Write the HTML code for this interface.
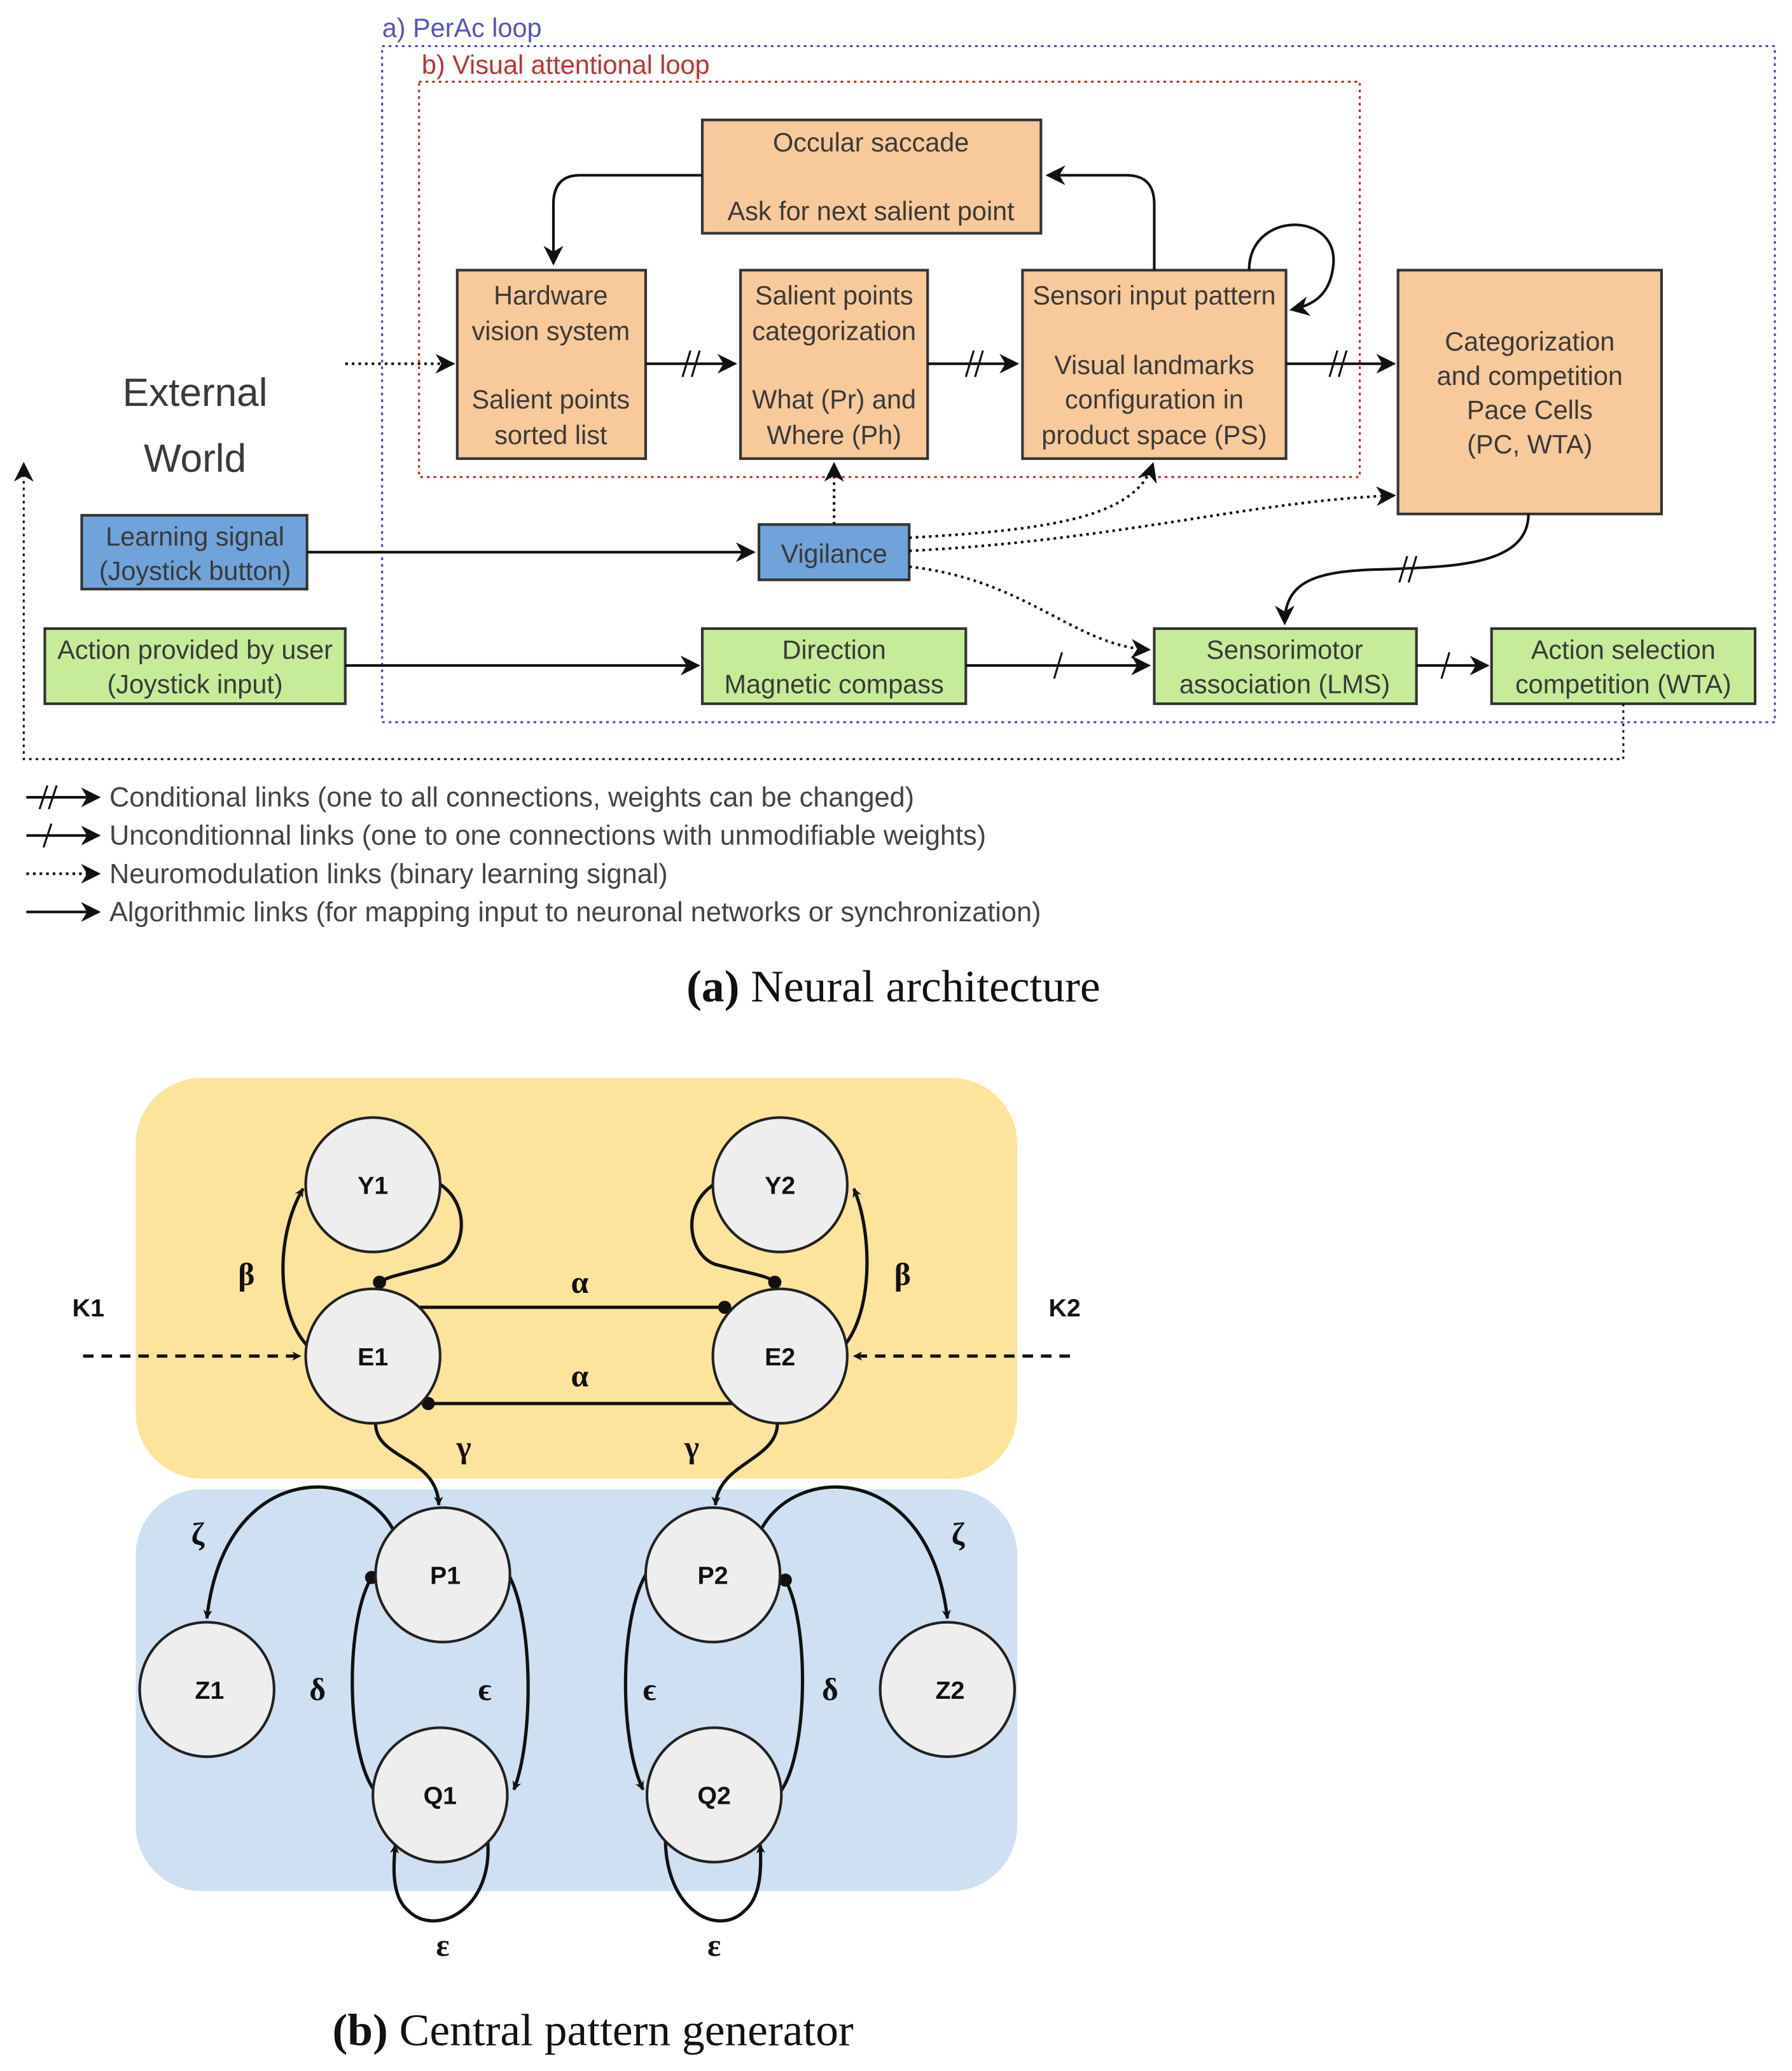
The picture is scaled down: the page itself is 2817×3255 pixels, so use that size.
<!DOCTYPE html>
<html><head><meta charset="utf-8"><style>html,body{margin:0;padding:0;background:#fff}svg{display:block}</style></head>
<body>
<svg width="2817" height="3255" viewBox="0 0 1360 1571.5" xmlns="http://www.w3.org/2000/svg">
<defs>
<marker id="a" viewBox="0 0 10 10" refX="9" refY="5" markerWidth="7" markerHeight="7" markerUnits="userSpaceOnUse" orient="auto"><path d="M0,0 L10,5 L0,10 L3,5z" fill="#111"/></marker>
<marker id="b" viewBox="0 0 10 10" refX="9" refY="5" markerWidth="15" markerHeight="15" markerUnits="userSpaceOnUse" orient="auto"><path d="M0,0 L10,5 L0,10 L3,5z" fill="#111"/></marker>
</defs>
<g font-family="Liberation Sans, sans-serif" fill="#3a3a3a" font-size="20" text-anchor="middle">
<text x="290" y="28" text-anchor="start" fill="#5555bb">a) PerAc loop</text>
<rect x="290" y="35" width="1057" height="513" fill="none" stroke="#4444bb" stroke-width="1.5" stroke-dasharray="2,3"/>
<text x="320" y="56" text-anchor="start" fill="#bb3333">b) Visual attentional loop</text>
<rect x="318" y="62" width="714" height="300" fill="none" stroke="#cc2222" stroke-width="1.5" stroke-dasharray="2,3"/>
<g fill="#F8C99A" stroke="#333" stroke-width="2">
<rect x="533" y="91" width="257" height="86"/>
<rect x="347" y="205" width="143" height="143"/>
<rect x="562" y="205" width="142" height="143"/>
<rect x="776" y="205" width="200" height="143"/>
<rect x="1061" y="205" width="200" height="185"/>
</g>
<rect x="62" y="391" width="171" height="56" fill="#6FA3DA" stroke="#333" stroke-width="2"/>
<rect x="576" y="398" width="114" height="42" fill="#6FA3DA" stroke="#333" stroke-width="2"/>
<g fill="#C6EC99" stroke="#333" stroke-width="2">
<rect x="34" y="477" width="228" height="57"/>
<rect x="533" y="477" width="200" height="57"/>
<rect x="876" y="477" width="199" height="57"/>
<rect x="1132" y="477" width="200" height="57"/>
</g>
<text x="661" y="115">Occular saccade</text><text x="661" y="167">Ask for next salient point</text>
<text x="418" y="231">Hardware</text><text x="418" y="258">vision system</text><text x="418" y="310">Salient points</text><text x="418" y="337">sorted list</text>
<text x="633" y="231">Salient points</text><text x="633" y="258">categorization</text><text x="633" y="310">What (Pr) and</text><text x="633" y="337">Where (Ph)</text>
<text x="876" y="231">Sensori input pattern</text><text x="876" y="284">Visual landmarks</text><text x="876" y="310">configuration in</text><text x="876" y="337">product space (PS)</text>
<text x="1161" y="266">Categorization</text><text x="1161" y="292">and competition</text><text x="1161" y="318">Pace Cells</text><text x="1161" y="344">(PC, WTA)</text>
<text x="148" y="308" font-size="30">External</text><text x="148" y="358" font-size="30">World</text>
<text x="148" y="414">Learning signal</text><text x="148" y="440">(Joystick button)</text>
<text x="633" y="427">Vigilance</text>
<text x="148" y="500">Action provided by user</text><text x="148" y="526">(Joystick input)</text>
<text x="633" y="500">Direction</text><text x="633" y="526">Magnetic compass</text>
<text x="975" y="500">Sensorimotor</text><text x="975" y="526">association (LMS)</text>
<text x="1232" y="500">Action selection</text><text x="1232" y="526">competition (WTA)</text>
<g fill="none" stroke="#111" stroke-width="2">
<path d="M533,133 H440 Q420,133 420,155 V200" marker-end="url(#b)"/>
<path d="M876,205 V155 Q876,133 855,133 H795" marker-end="url(#b)"/>
<path d="M948,205 C948,160 1015,160 1012,200 C1010,225 995,232 980,235" marker-end="url(#b)"/>
<path d="M262,276 H344" stroke-dasharray="2,3" marker-end="url(#b)"/>
<path d="M490,276 H558" marker-end="url(#b)"/><path d="M518,286 L524,266 M525,286 L531,266" stroke-width="1.5"/>
<path d="M704,276 H772" marker-end="url(#b)"/><path d="M733,286 L739,266 M740,286 L746,266" stroke-width="1.5"/>
<path d="M976,276 H1058" marker-end="url(#b)"/><path d="M1009,286 L1015,266 M1016,286 L1022,266" stroke-width="1.5"/>
<path d="M233,419 H572" marker-end="url(#b)"/>
<path d="M633,398 V352" stroke-dasharray="2,3" marker-end="url(#b)"/>
<path d="M690,408 C800,402 862,392 875,352" stroke-dasharray="2,3" marker-end="url(#b)"/>
<path d="M690,418 C850,410 950,380 1058,376" stroke-dasharray="2,3" marker-end="url(#b)"/>
<path d="M690,430 C780,440 815,490 872,493" stroke-dasharray="2,3" marker-end="url(#b)"/>
<path d="M1160,390 C1160,430 1100,430 1050,432 C1000,433 975,440 975,473" marker-end="url(#b)"/><path d="M1062,442 L1068,422 M1069,442 L1075,422" stroke-width="1.5"/>
<path d="M262,505 H530" marker-end="url(#b)"/>
<path d="M733,505 H872" marker-end="url(#b)"/><path d="M800,515 L806,495" stroke-width="1.5"/>
<path d="M1075,505 H1129" marker-end="url(#b)"/><path d="M1094,515 L1100,495" stroke-width="1.5"/>
<path d="M1232,534 V576 H18 V352" stroke-dasharray="2,3" stroke-width="1.5" marker-end="url(#b)"/>
<path d="M20,605 H75" marker-end="url(#b)"/><path d="M30,614 L36,596 M37,614 L43,596" stroke-width="1.5"/>
<path d="M20,634 H75" marker-end="url(#b)"/><path d="M33,643 L39,625" stroke-width="1.5"/>
<path d="M20,663 H75" stroke-dasharray="2,3" marker-end="url(#b)"/>
<path d="M20,692 H75" marker-end="url(#b)"/>
</g>
<g text-anchor="start" fill="#444" font-size="20.9">
<text x="83" y="612">Conditional links (one to all connections, weights can be changed)</text>
<text x="83" y="641">Unconditionnal links (one to one connections with unmodifiable weights)</text>
<text x="83" y="670">Neuromodulation links (binary learning signal)</text>
<text x="83" y="699">Algorithmic links (for mapping input to neuronal networks or synchronization)</text>
</g>
<text x="678" y="760" font-family="Liberation Serif, serif" font-size="34.5" fill="#111"><tspan font-weight="bold">(a)</tspan> Neural architecture</text>
</g>
<rect x="103" y="818" width="669" height="304" rx="50" fill="#FDE49C"/>
<rect x="103" y="1130" width="669" height="305" rx="50" fill="#CFE0F2"/>
<g fill="none" stroke="#111" stroke-width="2.5">
<path d="M234,1022 C208,995 210,935 230,902" marker-end="url(#a)"/>
<path d="M333,898 C360,915 352,955 330,960 C310,966 295,968 288,973"/>
<path d="M318,992 H550"/><path d="M580,1065 H325"/>
<path d="M63,1029 H228" stroke-dasharray="8,6" marker-end="url(#a)"/>
<path d="M812,1029 H648" stroke-dasharray="8,6" marker-end="url(#a)"/>
<path d="M640,1022 C663,995 662,935 648,902" marker-end="url(#a)"/>
<path d="M543,898 C515,915 523,955 545,960 C568,966 583,968 588,973"/>
<path d="M285,1080 C285,1108 332,1105 333,1142" marker-end="url(#a)"/>
<path d="M590,1080 C590,1108 545,1110 543,1142" marker-end="url(#a)"/>
<path d="M298,1160 C270,1110 170,1110 157,1228" marker-end="url(#a)"/>
<path d="M578,1160 C605,1110 705,1110 719,1228" marker-end="url(#a)"/>
<path d="M282,1197 C262,1230 262,1330 285,1360"/>
<path d="M386,1195 C405,1230 405,1320 390,1358" marker-end="url(#a)"/>
<path d="M370,1395 C375,1450 330,1470 310,1450 C298,1440 298,1420 300,1400" marker-end="url(#a)"/>
<path d="M490,1195 C470,1230 470,1320 488,1358" marker-end="url(#a)"/>
<path d="M596,1199 C614,1230 614,1330 592,1360"/>
<path d="M505,1395 C505,1450 545,1470 565,1450 C577,1440 578,1420 577,1400" marker-end="url(#a)"/>
</g>
<g fill="#111"><circle cx="288" cy="973" r="5"/><circle cx="588" cy="973" r="5"/><circle cx="550" cy="992" r="5"/><circle cx="325" cy="1065" r="5"/><circle cx="282" cy="1197" r="5"/><circle cx="596" cy="1199" r="5"/></g>
<g fill="#EEEEEE" stroke="#222" stroke-width="2">
<circle cx="283" cy="899" r="51"/><circle cx="592" cy="899" r="51"/><circle cx="283" cy="1029" r="51"/><circle cx="592" cy="1029" r="51"/>
<circle cx="336" cy="1195" r="51"/><circle cx="541" cy="1195" r="51"/><circle cx="157" cy="1282" r="51"/><circle cx="719" cy="1282" r="51"/>
<circle cx="334" cy="1362" r="51"/><circle cx="542" cy="1362" r="51"/>
</g>
<g font-family="Liberation Sans, sans-serif" font-weight="bold" font-size="19" text-anchor="middle" fill="#111">
<text x="283" y="906">Y1</text><text x="592" y="906">Y2</text><text x="283" y="1036">E1</text><text x="592" y="1036">E2</text>
<text x="338" y="1202">P1</text><text x="541" y="1202">P2</text><text x="159" y="1289">Z1</text><text x="721" y="1289">Z2</text>
<text x="334" y="1369">Q1</text><text x="542" y="1369">Q2</text>
<text x="67" y="999">K1</text><text x="808" y="999">K2</text>
</g>
<g font-family="Liberation Serif, serif" font-weight="bold" font-size="24" text-anchor="middle" fill="#111">
<text x="187" y="975">β</text><text x="685" y="975">β</text><text x="440" y="981">α</text><text x="440" y="1052">α</text>
<text x="352" y="1106">γ</text><text x="525" y="1106">γ</text><text x="150" y="1172">ζ</text><text x="727" y="1172">ζ</text>
<text x="241" y="1290">δ</text><text x="368" y="1290">ϵ</text><text x="493" y="1290">ϵ</text><text x="630" y="1290">δ</text>
<text x="336" y="1484">ε</text><text x="542" y="1484">ε</text>
</g>
<text x="450" y="1552" font-family="Liberation Serif, serif" font-size="34.5" text-anchor="middle" fill="#111"><tspan font-weight="bold">(b)</tspan> Central pattern generator</text>
</svg>
</body></html>
